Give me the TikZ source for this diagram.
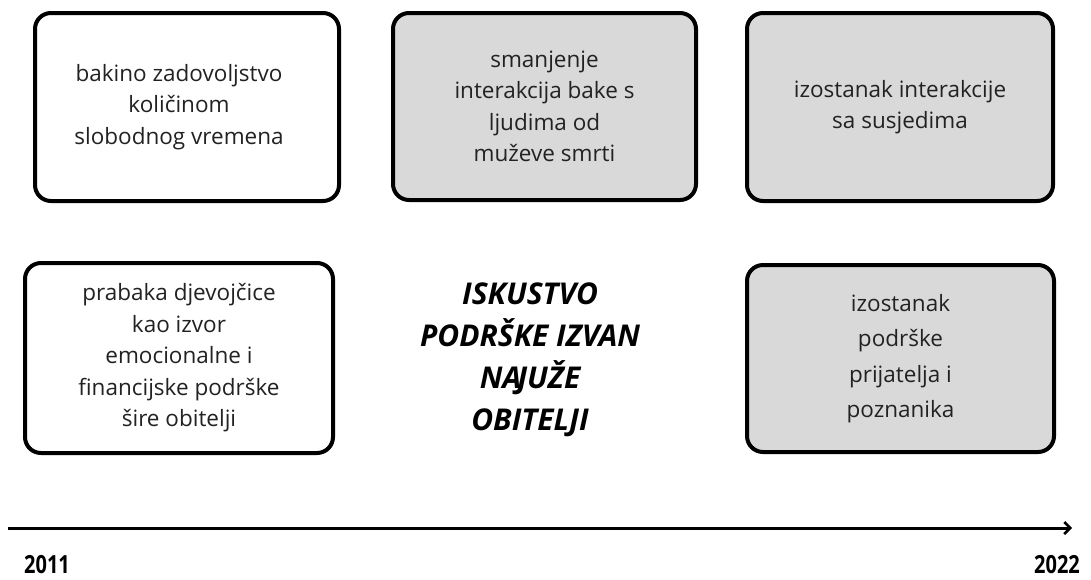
\documentclass[tikz,border=0pt]{standalone}
\usepackage{fontspec}
\setmainfont{Open Sans}
\newfontfamily\yearfont[FakeStretch=0.8]{Open Sans}
\usetikzlibrary{arrows.meta}
\definecolor{boxgrey}{HTML}{D9D9D9}
\definecolor{txt}{HTML}{222222}
\tikzset{
  evbox/.style={draw=black, line width=4pt, rounded corners=16pt, align=center,
    font=\fontsize{22.5}{31.5}\selectfont, text=txt, inner sep=0pt},
  whitebox/.style={evbox, fill=white},
  greybox/.style={evbox, fill=boxgrey},
  title/.style={align=center, font=\fontsize{30}{42}\selectfont\bfseries\itshape},
  year/.style={font=\fontsize{25}{28}\selectfont\yearfont\bfseries, inner sep=0pt, anchor=base},
  timeline/.style={line width=3pt, -{Straight Barb[length=6pt,width=12pt,line width=2.5pt]}}
}
\begin{document}
\begin{tikzpicture}[x=1pt,y=-1pt]
\useasboundingbox (0,0) rectangle (1091,579);
\node[whitebox, minimum width=304pt, minimum height=188pt] (b1) at (187,107)
  {\hspace*{-16pt}bakino zadovoljstvo\\\hspace*{-16pt}količinom\\\hspace*{-16pt}slobodnog vremena};
\node[greybox, minimum width=303pt, minimum height=187pt] (b2) at (544.5,106.5)
  {smanjenje\\interakcija bake s\\ljudima od\\muževe smrti};
\node[greybox, minimum width=306pt, minimum height=188pt] (b3) at (900,107)
  {izostanak interakcije\\sa susjedima};
\node[whitebox, minimum width=308pt, minimum height=190pt] (b4) at (179,358)
  {prabaka djevojčice\\kao izvor\\emocionalne i\\financijske podrške\\šire obitelji};
\node[greybox, minimum width=307pt, minimum height=187pt, font=\fontsize{22.5}{35.5}\selectfont] (b5) at (900.5,358.5)
  {izostanak\\podrške\\prijatelja i\\poznanika};
\node[title] (t) at (530,360) {ISKUSTVO\\PODRŠKE IZVAN\\NA\kern-4pt JUŽE\\OBITELJI};
\coordinate (s) at (8,528);
\coordinate (e) at (1072,528);
\draw[timeline] (s) -- (e);
\node[year] (y1) at (47,573) {2011};
\node[year] (y2) at (1057,573) {2022};
\end{tikzpicture}
\end{document}
